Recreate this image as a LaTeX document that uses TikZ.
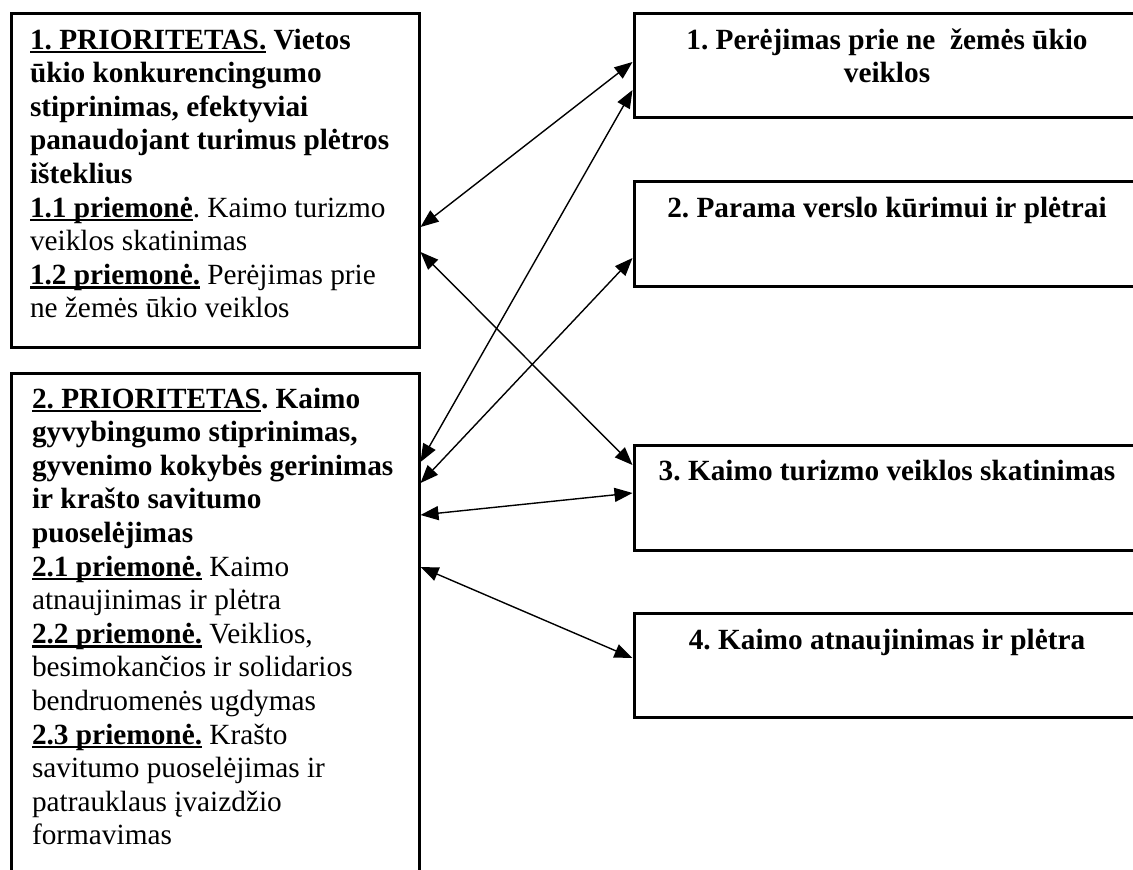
\documentclass[tikz,border=0pt]{standalone}
\usepackage{fontspec}
\setmainfont{Liberation Serif}
\usetikzlibrary{arrows.meta}
\newcommand\myuline[1]{\setbox0=\hbox{#1}\rlap{\rule[-4.3pt]{\wd0}{2.2pt}}\box0\relax}
\tikzset{
  x=1pt,y=-1pt,
  boxframe/.style={draw=black,line width=3pt,inner sep=0pt,outer sep=0pt,anchor=north west},
  lefttext/.style={inner sep=0pt,outer sep=0pt,anchor=base west,align=left,
    font=\fontsize{29.3pt}{33.6pt}\selectfont\frenchspacing},
  righttext/.style={inner sep=0pt,outer sep=0pt,anchor=base,align=center,
    font=\fontsize{29.3pt}{33.6pt}\selectfont\bfseries\frenchspacing},
  link/.style={line width=1.4pt,{Triangle[length=18pt,width=14pt]}-{Triangle[length=18pt,width=14pt]}}
}
\begin{document}
\begin{tikzpicture}
\clip (0,0) rectangle (1133,870);
\fill[white] (0,0) rectangle (1133,870);
% left boxes
\node[boxframe,minimum width=408pt,minimum height=334pt] (L1) at (11,13) {};
\node[boxframe,minimum width=408pt,minimum height=520pt] (L2) at (11,373) {};
% right boxes
\node[boxframe,minimum width=506pt,minimum height=104pt] (R1) at (634,13) {};
\node[boxframe,minimum width=506pt,minimum height=105pt] (R2) at (634,181) {};
\node[boxframe,minimum width=506pt,minimum height=105pt] (R3) at (634,445) {};
\node[boxframe,minimum width=506pt,minimum height=104pt] (R4) at (634,613) {};
% left texts (base anchor = baseline of the last line)
\node[lefttext] (T1) at (30,317.8) {\textbf{\myuline{1. PRIORITETAS.} Vietos}\\
\textbf{ūkio konkurencingumo}\\
\textbf{stiprinimas, efektyviai}\\
\textbf{panaudojant turimus plėtros}\\
\textbf{išteklius}\\
\textbf{\myuline{1.1 priemonė}}. Kaimo turizmo\\
veiklos skatinimas\\
\textbf{\myuline{1.2 priemonė.}} Perėjimas prie\\
ne žemės ūkio veiklos};
\node[lefttext] (T2) at (32,844.8) {\textbf{\myuline{2. PRIORITETAS}. Kaimo}\\
\textbf{gyvybingumo stiprinimas,}\\
\textbf{gyvenimo kokybės gerinimas}\\
\textbf{ir krašto savitumo}\\
\textbf{puoselėjimas}\\
\textbf{\myuline{2.1 priemonė.}} Kaimo\\
atnaujinimas ir plėtra\\
\textbf{\myuline{2.2 priemonė.}} Veiklios,\\
besimokančios ir solidarios\\
bendruomenės ugdymas\\
\textbf{\myuline{2.3 priemonė.}} Krašto\\
savitumo puoselėjimas ir\\
patrauklaus įvaizdžio\\
formavimas};
% right texts
\node[righttext] (S1) at (887,82.6) {1. Perėjimas prie ne\ \ žemės ūkio\\veiklos};
\node[righttext] (S2) at (887,217) {2. Parama verslo kūrimui ir plėtrai};
\node[righttext] (S3) at (887,480) {3. Kaimo turizmo veiklos skatinimas};
\node[righttext] (S4) at (887,649) {4. Kaimo atnaujinimas ir plėtra};
% connectors
\draw[link] ([shift={(1.5,214)}]L1.north east) -- ([shift={(-1.5,49)}]R1.north west);
\draw[link] ([shift={(1.5,239)}]L1.north east) -- ([shift={(-1.5,20)}]R3.north west);
\draw[link] ([shift={(1.5,89)}]L2.north east) -- ([shift={(-1.5,77)}]R1.north west);
\draw[link] ([shift={(1.5,110)}]L2.north east) -- ([shift={(-1.5,77)}]R2.north west);
\draw[link] ([shift={(1.5,142)}]L2.north east) -- ([shift={(-1.5,48)}]R3.north west);
\draw[link] ([shift={(1.5,194)}]L2.north east) -- ([shift={(-1.5,45)}]R4.north west);
\end{tikzpicture}
\end{document}
